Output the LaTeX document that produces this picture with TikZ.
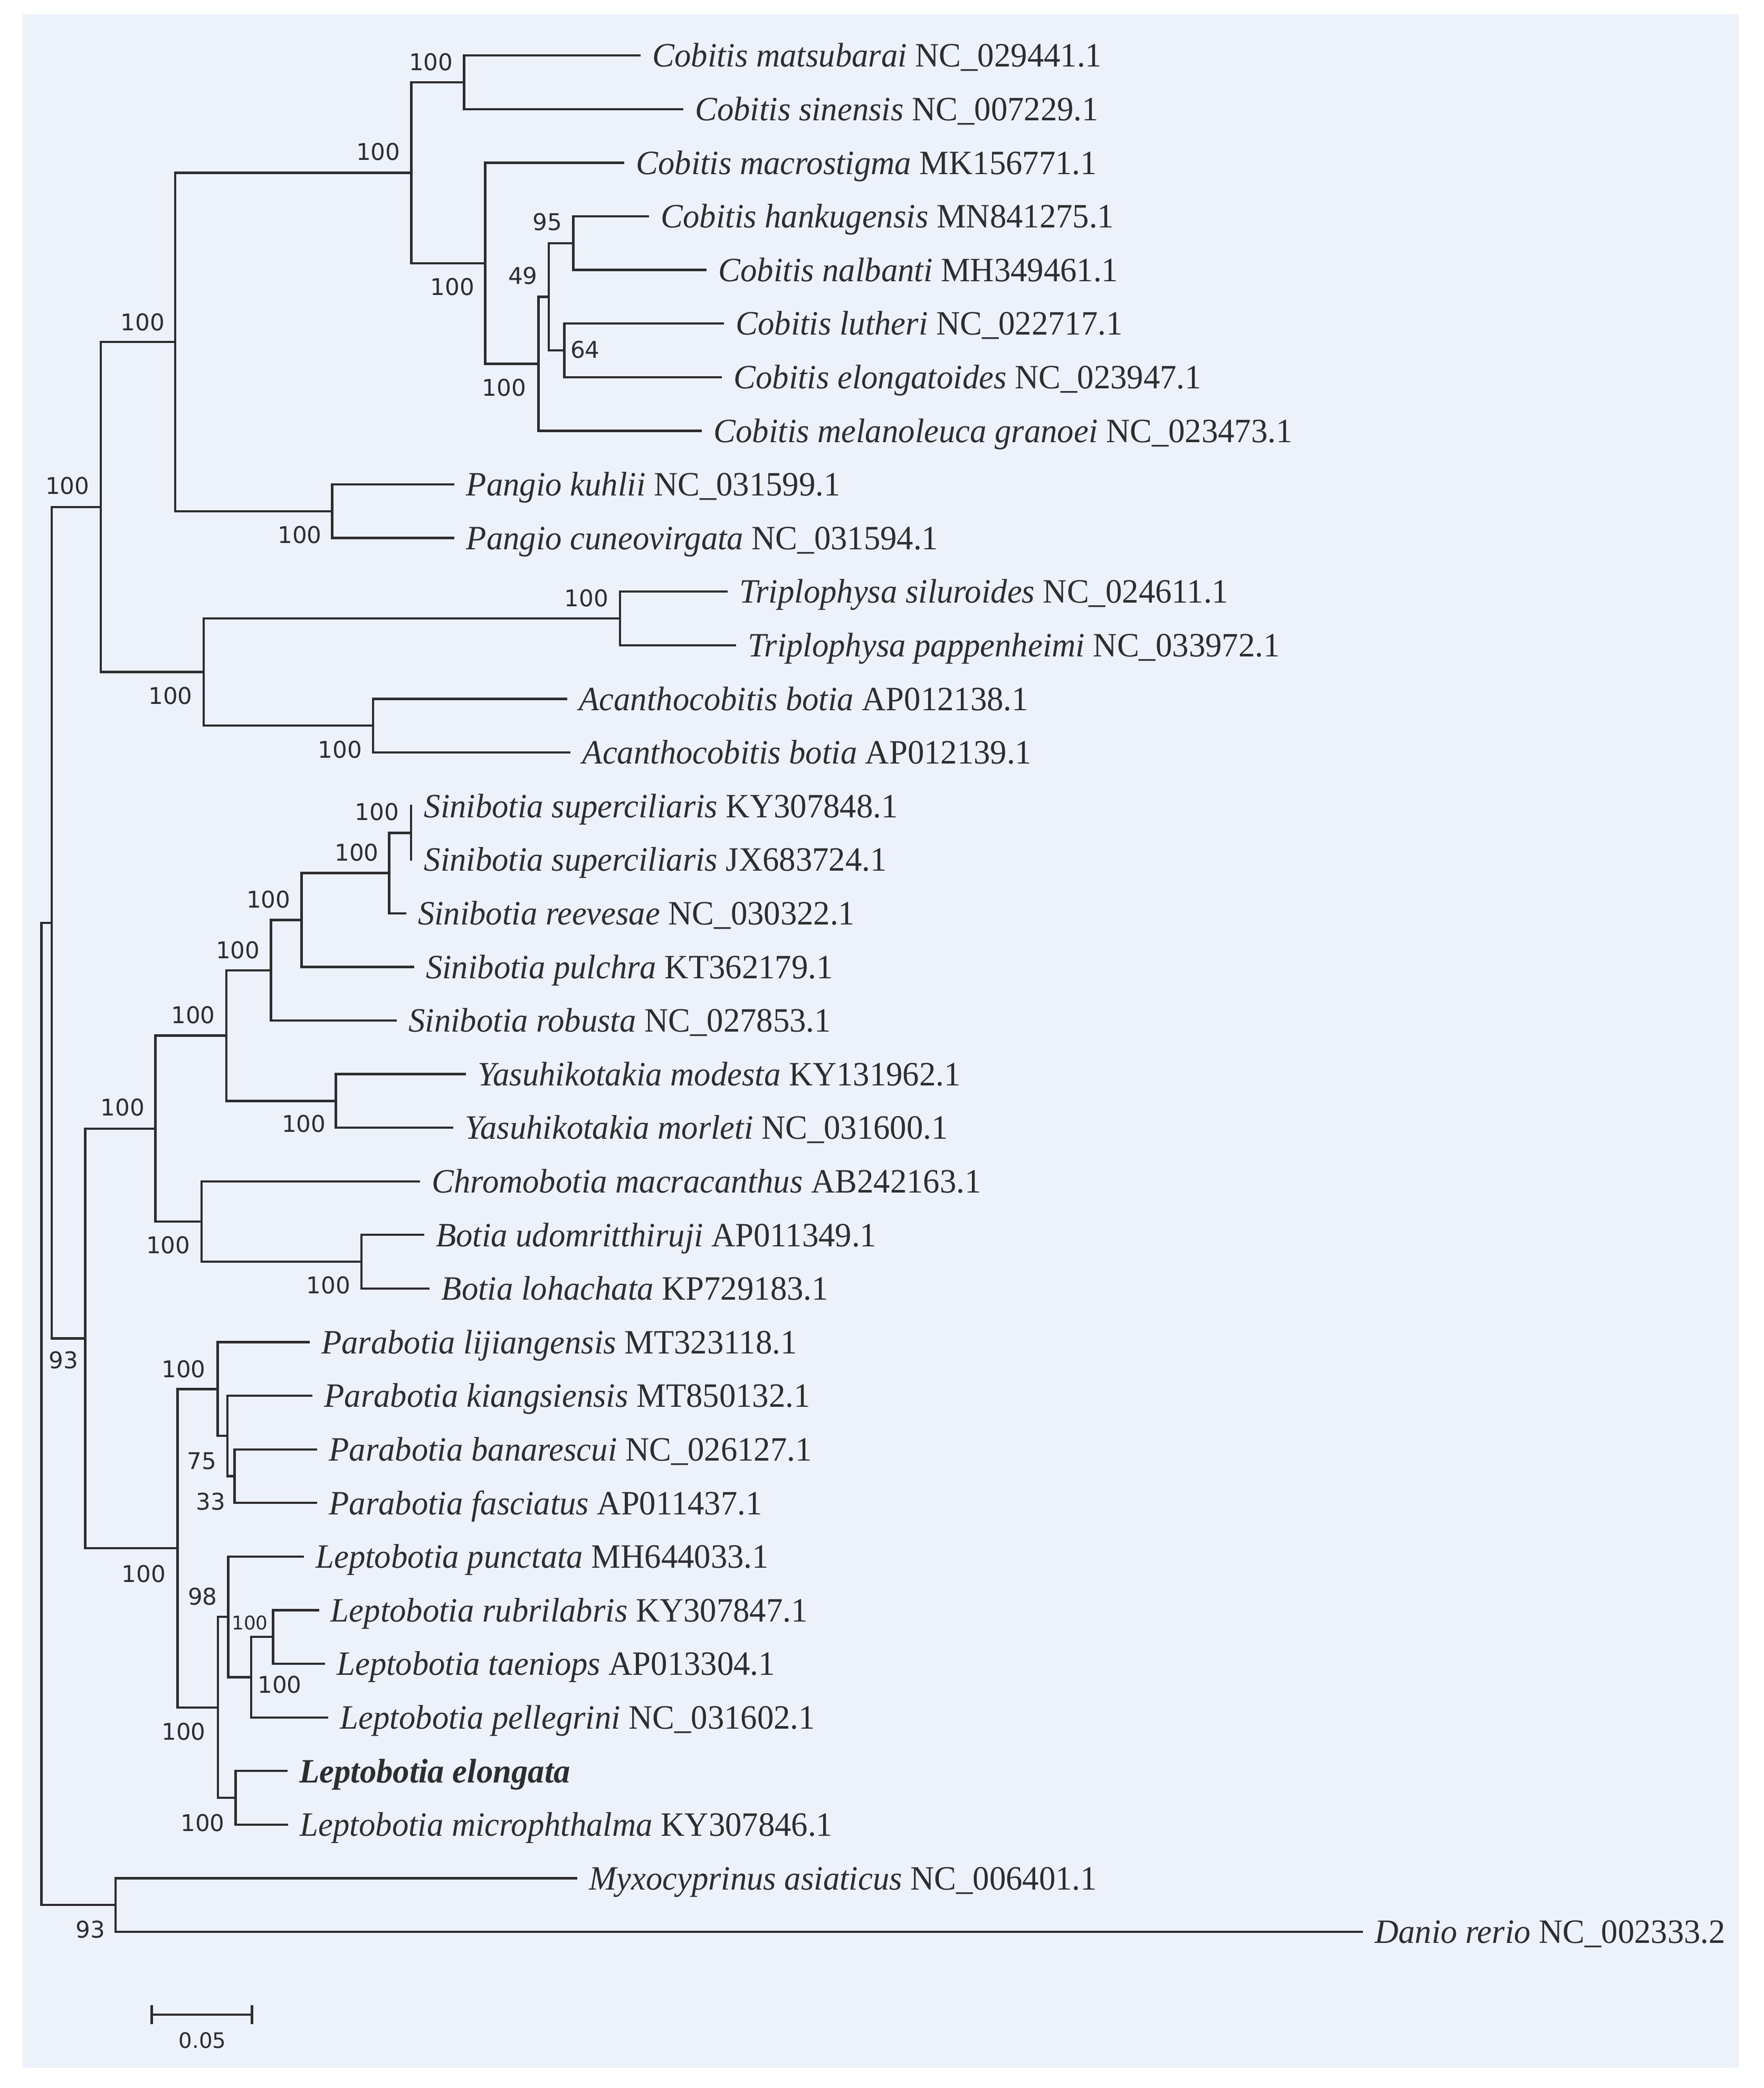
\documentclass[tikz,border=0pt]{standalone}
\usepackage{fontspec}
\setmainfont{Liberation Serif}
\newfontfamily\bsfont{DejaVu Sans}
\usetikzlibrary{calc}
\definecolor{panelbg}{RGB}{237,242,250}
\definecolor{ink}{RGB}{45,45,45}
\newcommand\taxon[2]{\scalebox{0.97}[1]{\textit{#1} #2}}
\begin{document}
\begin{tikzpicture}[x=0.5pt,y=-0.5pt,
  br/.style={draw=ink,line width=0.85pt},
  tip/.style={anchor=base west,inner sep=0pt,xshift=4.25pt,yshift=-4.3pt,font=\fontsize{12.8}{14}\selectfont,text=ink},
  bs/.style={inner sep=0pt,font=\bsfont\fontsize{8.65}{10}\selectfont,text=ink},
  bss/.style={inner sep=0pt,font=\bsfont\fontsize{7.1}{8}\selectfont,text=ink}]
\useasboundingbox (0,0) rectangle (1324.1,1567.7);
\fill[white] (0,0) rectangle (1324.1,1567.7);
\fill[panelbg] (17,10.6) rectangle (1305.5,1552.5);
% tips
\coordinate (t0) at (481,41.70);
\coordinate (t1) at (513,81.95);
\coordinate (t2) at (468.7,122.20);
\coordinate (t3) at (487.4,162.45);
\coordinate (t4) at (530.6,202.70);
\coordinate (t5) at (543.6,242.95);
\coordinate (t6) at (542,283.20);
\coordinate (t7) at (527,323.45);
\coordinate (t8) at (341.3,363.70);
\coordinate (t9) at (341.3,403.95);
\coordinate (t10) at (546.2,444.20);
\coordinate (t11) at (552.6,484.45);
\coordinate (t12) at (425.9,524.70);
\coordinate (t13) at (428.4,564.95);
\coordinate (t14) at (309.5,605.20);
\coordinate (t15) at (309.5,645.45);
\coordinate (t16) at (304.9,685.70);
\coordinate (t17) at (310.9,725.95);
\coordinate (t18) at (297.9,766.20);
\coordinate (t19) at (349.8,806.45);
\coordinate (t20) at (340.3,846.70);
\coordinate (t21) at (315.5,886.95);
\coordinate (t22) at (318.4,927.20);
\coordinate (t23) at (322.6,967.45);
\coordinate (t24) at (232.4,1007.70);
\coordinate (t25) at (234.5,1047.95);
\coordinate (t26) at (238.1,1088.20);
\coordinate (t27) at (238.1,1128.45);
\coordinate (t28) at (228.2,1168.70);
\coordinate (t29) at (239.5,1208.95);
\coordinate (t30) at (244,1249.20);
\coordinate (t31) at (246.6,1289.45);
\coordinate (t32) at (215.8,1329.70);
\coordinate (t33) at (216.5,1369.95);
\coordinate (t34) at (433.3,1410.20);
\coordinate (t35) at (1023.3,1450.45);
% internal nodes
\coordinate (A) at (348.4,61.825);
\coordinate (F) at (430.5,182.575);
\coordinate (G) at (423.7,263.075);
\coordinate (E) at (412.0,222.825);
\coordinate (D) at (404.3,273.1375);
\coordinate (C) at (364.3,197.67);
\coordinate (B) at (308.8,129.75);
\coordinate (I) at (249.4,383.825);
\coordinate (H) at (131.6,256.79);
\coordinate (M) at (465.5,464.325);
\coordinate (N) at (280.0,544.825);
\coordinate (L) at (152.8,504.575);
\coordinate (J) at (75.7,380.68);
\coordinate (O) at (308.5,625.325);
\coordinate (P) at (292.2,655.51);
\coordinate (Q) at (226.4,690.73);
\coordinate (R) at (203.4,728.47);
\coordinate (U) at (252.2,826.575);
\coordinate (S) at (170.1,777.52);
\coordinate (W) at (271.5,947.325);
\coordinate (V) at (151.4,917.14);
\coordinate (T) at (116.7,847.33);
\coordinate (Z3) at (176.1,1108.325);
\coordinate (Z2) at (170.8,1078.14);
\coordinate (Z) at (163.4,1042.92);
\coordinate (AD) at (205.0,1229.075);
\coordinate (AC) at (188.6,1259.26);
\coordinate (AB) at (171.4,1213.98);
\coordinate (AE) at (176.9,1349.825);
\coordinate (AA) at (163.5,1281.90);
\coordinate (Y) at (133.3,1162.41);
\coordinate (X) at (64.0,1004.87);
\coordinate (K) at (38.9,692.78);
\coordinate (AF) at (86.7,1430.325);
\coordinate (RT) at (31.1,1061.55);
% branches
\draw[br] (t0) -| (A) |- (t1);
\draw[br] (t3) -| (F) |- (t4);
\draw[br] (t5) -| (G) |- (t6);
\draw[br] (F) -| (E) |- (G);
\draw[br] (E) -| (D) |- (t7);
\draw[br] (t2) -| (C) |- (D);
\draw[br] (A) -| (B) |- (C);
\draw[br] (t8) -| (I) |- (t9);
\draw[br] (B) -| (H) |- (I);
\draw[br] (t10) -| (M) |- (t11);
\draw[br] (t12) -| (N) |- (t13);
\draw[br] (M) -| (L) |- (N);
\draw[br] (H) -| (J) |- (L);
\draw[br] (t14) -| (O) |- (t15);
\draw[br] (O) -| (P) |- (t16);
\draw[br] (P) -| (Q) |- (t17);
\draw[br] (Q) -| (R) |- (t18);
\draw[br] (t19) -| (U) |- (t20);
\draw[br] (R) -| (S) |- (U);
\draw[br] (t22) -| (W) |- (t23);
\draw[br] (t21) -| (V) |- (W);
\draw[br] (S) -| (T) |- (V);
\draw[br] (t26) -| (Z3) |- (t27);
\draw[br] (t25) -| (Z2) |- (Z3);
\draw[br] (t24) -| (Z) |- (Z2);
\draw[br] (t29) -| (AD) |- (t30);
\draw[br] (AD) -| (AC) |- (t31);
\draw[br] (t28) -| (AB) |- (AC);
\draw[br] (t32) -| (AE) |- (t33);
\draw[br] (AB) -| (AA) |- (AE);
\draw[br] (Z) -| (Y) |- (AA);
\draw[br] (T) -| (X) |- (Y);
\draw[br] (J) -| (K) |- (X);
\draw[br] (t34) -| (AF) |- (t35);
\draw[br] (K) -| (RT) |- (AF);
% taxon labels
\node[tip] (L0) at (t0) {\taxon{Cobitis matsubarai}{NC\_029441.1}};
\node[tip] (L1) at (t1) {\taxon{Cobitis sinensis}{NC\_007229.1}};
\node[tip] (L2) at (t2) {\taxon{Cobitis macrostigma}{MK156771.1}};
\node[tip] (L3) at (t3) {\taxon{Cobitis hankugensis}{MN841275.1}};
\node[tip] (L4) at (t4) {\taxon{Cobitis nalbanti}{MH349461.1}};
\node[tip] (L5) at (t5) {\taxon{Cobitis lutheri}{NC\_022717.1}};
\node[tip] (L6) at (t6) {\taxon{Cobitis elongatoides}{NC\_023947.1}};
\node[tip] (L7) at (t7) {\taxon{Cobitis melanoleuca granoei}{NC\_023473.1}};
\node[tip] (L8) at (t8) {\taxon{Pangio kuhlii}{NC\_031599.1}};
\node[tip] (L9) at (t9) {\taxon{Pangio cuneovirgata}{NC\_031594.1}};
\node[tip] (L10) at (t10) {\taxon{Triplophysa siluroides}{NC\_024611.1}};
\node[tip] (L11) at (t11) {\taxon{Triplophysa pappenheimi}{NC\_033972.1}};
\node[tip] (L12) at (t12) {\taxon{Acanthocobitis botia}{AP012138.1}};
\node[tip] (L13) at (t13) {\taxon{Acanthocobitis botia}{AP012139.1}};
\node[tip] (L14) at (t14) {\taxon{Sinibotia superciliaris}{KY307848.1}};
\node[tip] (L15) at (t15) {\taxon{Sinibotia superciliaris}{JX683724.1}};
\node[tip] (L16) at (t16) {\taxon{Sinibotia reevesae}{NC\_030322.1}};
\node[tip] (L17) at (t17) {\taxon{Sinibotia pulchra}{KT362179.1}};
\node[tip] (L18) at (t18) {\taxon{Sinibotia robusta}{NC\_027853.1}};
\node[tip] (L19) at (t19) {\taxon{Yasuhikotakia modesta}{KY131962.1}};
\node[tip] (L20) at (t20) {\taxon{Yasuhikotakia morleti}{NC\_031600.1}};
\node[tip] (L21) at (t21) {\taxon{Chromobotia macracanthus}{AB242163.1}};
\node[tip] (L22) at (t22) {\taxon{Botia udomritthiruji}{AP011349.1}};
\node[tip] (L23) at (t23) {\taxon{Botia lohachata}{KP729183.1}};
\node[tip] (L24) at (t24) {\taxon{Parabotia lijiangensis}{MT323118.1}};
\node[tip] (L25) at (t25) {\taxon{Parabotia kiangsiensis}{MT850132.1}};
\node[tip] (L26) at (t26) {\taxon{Parabotia banarescui}{NC\_026127.1}};
\node[tip] (L27) at (t27) {\taxon{Parabotia fasciatus}{AP011437.1}};
\node[tip] (L28) at (t28) {\taxon{Leptobotia punctata}{MH644033.1}};
\node[tip] (L29) at (t29) {\taxon{Leptobotia rubrilabris}{KY307847.1}};
\node[tip] (L30) at (t30) {\taxon{Leptobotia taeniops}{AP013304.1}};
\node[tip] (L31) at (t31) {\taxon{Leptobotia pellegrini}{NC\_031602.1}};
\node[tip] (L32) at (t32) {\scalebox{0.97}[1]{\bfseries\itshape Leptobotia elongata}};
\node[tip] (L33) at (t33) {\taxon{Leptobotia microphthalma}{KY307846.1}};
\node[tip] (L34) at (t34) {\taxon{Myxocyprinus asiaticus}{NC\_006401.1}};
\node[tip] (L35) at (t35) {\taxon{Danio rerio}{NC\_002333.2}};
% bootstrap values
\node[bs] (bA) at (323.6,46.7) {100};
\node[bs] (bB) at (284.0,113.9) {100};
\node[bs] (bC) at (339.6,215.4) {100};
\node[bs] (bD) at (378.5,291.2) {100};
\node[bs] (bE) at (392.6,207.0) {49};
\node[bs] (bF) at (411.0,166.7) {95};
\node[bs] (bG) at (439.3,262.6) {64};
\node[bs] (bH) at (107.2,241.8) {100};
\node[bs] (bI) at (225.0,401.6) {100};
\node[bs] (bJ) at (50.6,364.9) {100};
\node[bs] (bL) at (128.0,522.6) {100};
\node[bs] (bM) at (440.4,449.3) {100};
\node[bs] (bN) at (255.4,563.0) {100};
\node[bs] (bO) at (283.0,609.7) {100};
\node[bs] (bP) at (267.8,640.1) {100};
\node[bs] (bQ) at (201.6,675.4) {100};
\node[bs] (bR) at (178.6,713.3) {100};
\node[bs] (bS) at (145.0,761.9) {100};
\node[bs] (bU) at (228.1,843.8) {100};
\node[bs] (bT) at (92.0,831.6) {100};
\node[bs] (bV) at (126.3,934.7) {100};
\node[bs] (bW) at (246.5,965.0) {100};
\node[bs] (bX) at (47.7,1021.1) {93};
\node[bs] (bZ) at (137.9,1028.1) {100};
\node[bs] (bZ2) at (151.4,1096.9) {75};
\node[bs] (bZ3) at (158.1,1127.3) {33};
\node[bs] (bY) at (107.9,1181.8) {100};
\node[bs] (bAB) at (152.1,1198.5) {98};
\node[bss] (bAD) at (187.6,1218.6) {100};
\node[bs] (bAC) at (210.0,1265.0) {100};
\node[bs] (bAA) at (137.9,1300.3) {100};
\node[bs] (bAE) at (152.1,1368.7) {100};
\node[bs] (bAF) at (67.9,1448.5) {93};
% scale bar
\coordinate (s1) at (113.9,1512.6);
\coordinate (s2) at (189.2,1512.6);
\draw[br] (s1) -- (s2);
\draw[br] ($(s1)+(0,-7.2)$) -- ($(s1)+(0,7.2)$);
\draw[br] ($(s2)+(0,-7.2)$) -- ($(s2)+(0,7.2)$);
\node[inner sep=0pt,font=\bsfont\fontsize{8}{9}\selectfont,text=ink] (sb) at (152,1532) {0.05};
\end{tikzpicture}
\end{document}
